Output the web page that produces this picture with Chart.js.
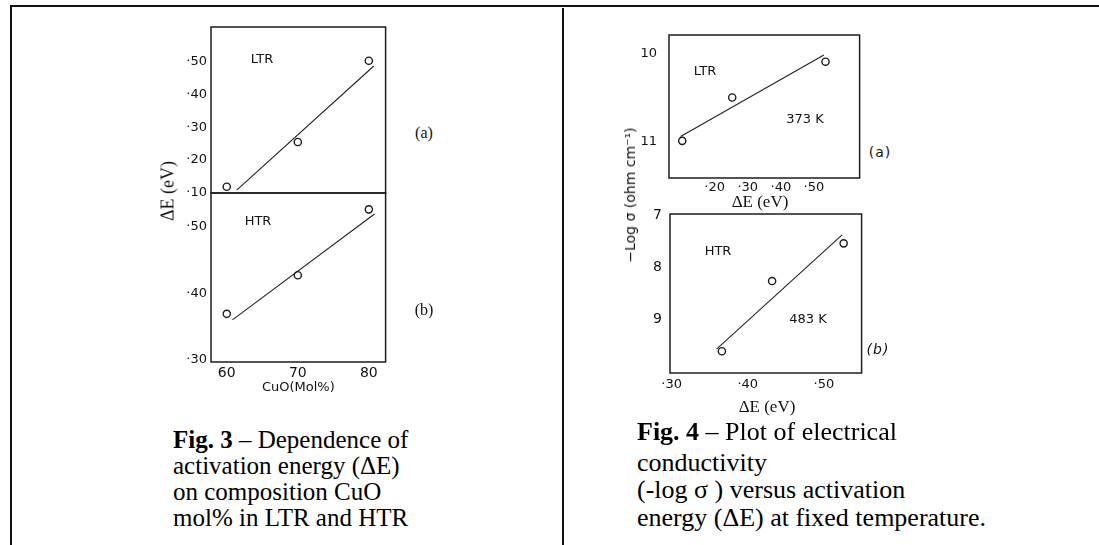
<!DOCTYPE html>
<html>
<head>
<meta charset="utf-8">
<script src="https://cdn.jsdelivr.net/npm/chart.js@4.4.0/dist/chart.umd.min.js"></script>
<style>
  body { margin: 0; background: #fff; width: 1099px; height: 545px; overflow: hidden; position: relative; }
  canvas { position: absolute; }
  .rule { position: absolute; background: #111; }
  .lbl { position: absolute; font-family: "DejaVu Sans", sans-serif; font-size: 13px; color: #111; transform: translate(-50%, -50%); white-space: nowrap; }
  .serif { font-family: "Liberation Serif", "Times New Roman", serif; color: #111; }
  .cap { position: absolute; font-family: "Liberation Serif", "Times New Roman", serif; color: #000; white-space: nowrap; }
</style>
</head>
<body>
<!-- table borders -->
<div class="rule" style="left:10px;top:5px;width:1089px;height:2px"></div>
<div class="rule" style="left:10px;top:5px;width:2px;height:540px"></div>
<div class="rule" style="left:562px;top:8px;width:2px;height:537px"></div>

<canvas id="f3a" width="241" height="181" style="left:150px;top:20px"></canvas>
<canvas id="f3b" width="241" height="212" style="left:150px;top:186px"></canvas>
<canvas id="f4a" width="265" height="172" style="left:600px;top:28px"></canvas>
<canvas id="f4b" width="267" height="192" style="left:600px;top:205px"></canvas>

<!-- Fig. 3 labels -->
<div class="lbl" style="left:262px;top:58px">LTR</div>
<div class="lbl" style="left:258px;top:220px">HTR</div>
<div class="lbl serif" style="left:424px;top:133px;font-size:16px">(a)</div>
<div class="lbl serif" style="left:424px;top:310px;font-size:16px">(b)</div>
<div class="lbl serif" style="left:168px;top:191px;font-size:18px;transform:translate(-50%,-50%) rotate(-90deg)">ΔE (eV)</div>

<!-- Fig. 4 labels -->
<div class="lbl" style="left:705px;top:70px">LTR</div>
<div class="lbl" style="left:805px;top:118px">373 K</div>
<div class="lbl" style="left:880px;top:152px;font-size:14px;letter-spacing:1px">(a)</div>
<div class="lbl" style="left:718px;top:250px">HTR</div>
<div class="lbl" style="left:808px;top:318px">483 K</div>
<div class="lbl" style="left:878px;top:349px;font-size:14px;font-style:italic;letter-spacing:1px">(b)</div>
<div class="lbl serif" style="left:760px;top:202px;font-size:17px">ΔE (eV)</div>
<div class="lbl serif" style="left:767px;top:407px;font-size:17px">ΔE (eV)</div>
<div class="lbl" style="left:630px;top:195px;font-size:14px;transform:translate(-50%,-50%) rotate(-90deg)">−Log σ (ohm cm⁻¹)</div>

<!-- captions -->
<div class="cap" style="left:173px;top:427px;font-size:25px;line-height:26px">
<b>Fig. 3</b> – Dependence of<br>activation energy (ΔE)<br>on composition CuO<br>mol% in LTR and HTR
</div>
<div class="cap" style="left:637px;top:419px;font-size:26px;line-height:26px"><b>Fig. 4</b> – Plot of electrical</div>
<div class="cap" style="left:637px;top:450px;font-size:26px;line-height:26px">conductivity</div>
<div class="cap" style="left:637px;top:477px;font-size:26px;line-height:26px">(-log σ ) versus activation</div>
<div class="cap" style="left:637px;top:505px;font-size:26px;line-height:26px">energy (ΔE) at fixed temperature.</div>

<script>
// Fig. 3 : activation energy vs CuO mol%
const cuoMol = [60, 70, 80];
const ltrDE = [0.119, 0.255, 0.502];
const ltrFitX = [61.4, 80.7];
const ltrFitY = [0.109, 0.486];
const htrDE = [0.369, 0.427, 0.526];
const htrFitX = [60.8, 80.8];
const htrFitY = [0.360, 0.519];
const cuoTicks = [60, 70, 80];
const ltrDETicks = [0.1, 0.2, 0.3, 0.4, 0.5];
const htrDETicks = [0.3, 0.4, 0.5];

// Fig. 4 : -log sigma vs activation energy
const ltr4DE = [0.102, 0.253, 0.535];
const ltr4Sigma = [10.99, 10.50, 10.095];
const ltr4FitX = [0.097, 0.530];
const ltr4FitY = [10.94, 10.02];
const htr4DE = [0.366, 0.432, 0.526];
const htr4Sigma = [9.60, 8.26, 7.54];
const htr4FitX = [0.359, 0.524];
const htr4FitY = [9.56, 7.38];
const ltr4DETicks = [0.2, 0.3, 0.4, 0.5];
const ltr4SigmaTicks = [10, 11];
const htr4DETicks = [0.3, 0.4, 0.5];
const htr4SigmaTicks = [7, 8, 9];

Chart.defaults.font.family = '"DejaVu Sans", sans-serif';
Chart.defaults.color = '#111';

// box round the plot area
const framePlugin = {
  id: 'frame',
  afterDraw(chart) {
    const a = chart.chartArea, ctx = chart.ctx;
    ctx.save();
    ctx.strokeStyle = '#1c1c1c';
    ctx.lineWidth = 1.5;
    ctx.strokeRect(a.left, a.top, a.right - a.left, a.bottom - a.top);
    ctx.restore();
  }
};

const dec = v => '·' + Math.round(v * 100);
const plain = v => String(v);

function axis(o) {
  return {
    type: 'linear',
    display: o.display !== false,
    min: o.min, max: o.max,
    reverse: !!o.reverse,
    grid: { display: false, drawTicks: false },
    border: { display: false },
    title: o.title ? { display: true, text: o.title, font: { size: 13 }, color: '#111', padding: { top: 0, bottom: 3 } } : { display: false },
    ticks: { callback: o.fmt, padding: o.pad, font: { size: o.size || 13 }, color: '#111' },
    afterBuildTicks: s => { s.ticks = o.ticks.map(v => ({ value: v })); },
    afterFit: s => {
      if (o.w != null) s.width = o.w;
      if (o.h != null) s.height = o.h;
      s.paddingLeft = s.paddingRight = s.paddingTop = s.paddingBottom = 0;
    }
  };
}

function panel(id, xs, ys, fx, fy, pad, xAx, yAx) {
  return new Chart(document.getElementById(id), {
    type: 'scatter',
    data: {
      datasets: [
        {
          data: xs.map((x, i) => ({ x: x, y: ys[i] })),
          showLine: false,
          pointRadius: 3.6,
          pointBorderWidth: 1.4,
          pointBorderColor: '#1a1a1a',
          pointBackgroundColor: 'rgba(0,0,0,0)'
        },
        {
          data: fx.map((x, i) => ({ x: x, y: fy[i] })),
          showLine: true,
          pointRadius: 0,
          borderColor: '#222',
          borderWidth: 1.1
        }
      ]
    },
    options: {
      responsive: false,
      animation: false,
      events: [],
      layout: { padding: pad },
      plugins: { legend: { display: false }, tooltip: { enabled: false } },
      scales: { x: axis(xAx), y: axis(yAx) }
    },
    plugins: [framePlugin]
  });
}

panel('f3a', cuoMol, ltrDE, ltrFitX, ltrFitY,
  { top: 7, right: 3, bottom: 8, left: 0 },
  { display: false, min: 57.78, max: 82.36, ticks: cuoTicks, fmt: plain },
  { min: 0.1, max: 0.6045, ticks: ltrDETicks, fmt: dec, pad: 4, w: 61 });

panel('f3b', cuoMol, htrDE, htrFitX, htrFitY,
  { top: 7, right: 3, bottom: 0, left: 0 },
  { min: 57.78, max: 82.36, ticks: cuoTicks, fmt: plain, pad: 3, size: 14, h: 36, title: 'CuO(Mol%)' },
  { min: 0.2966, max: 0.5506, ticks: htrDETicks, fmt: dec, pad: 4, w: 61 });

panel('f4a', ltr4DE, ltr4Sigma, ltr4FitX, ltr4FitY,
  { top: 7, right: 4, bottom: 0, left: 0 },
  { min: 0.062, max: 0.638, ticks: ltr4DETicks, fmt: dec, pad: 2, h: 22 },
  { min: 9.793, max: 11.41, reverse: true, ticks: ltr4SigmaTicks, fmt: plain, pad: 12, w: 69 });

panel('f4b', htr4DE, htr4Sigma, htr4FitX, htr4FitY,
  { top: 9, right: 4, bottom: 0, left: 0 },
  { min: 0.2978, max: 0.5496, ticks: htr4DETicks, fmt: dec, pad: 4, h: 24 },
  { min: 6.98, max: 10.015, reverse: true, ticks: htr4SigmaTicks, fmt: plain, pad: 8, w: 70, size: 14 });
</script>
</body>
</html>
